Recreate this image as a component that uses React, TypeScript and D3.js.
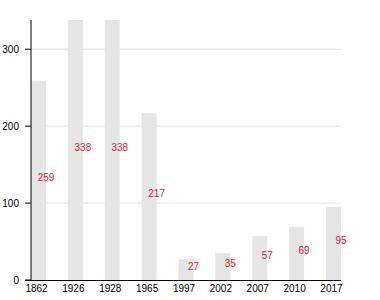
import React from "react";
import * as d3 from "d3";

const years = ["1862", "1926", "1928", "1965", "1997", "2002", "2007", "2010", "2017"];
const values = [259, 338, 338, 217, 27, 35, 57, 69, 95];
const yTicks = [0, 100, 200, 300];

export default function App() {
  const W = 380, H = 300;
  const left = 31, right = 341, top = 20, bottom = 280;
  const x = d3.scaleBand<string>().domain(years).range([left, right]).paddingInner(0.593).paddingOuter(0);
  const y = d3.scaleLinear().domain([0, d3.max(values) as number]).range([bottom, top]);
  const font = "Liberation Sans, Arial, sans-serif";
  return (
    <svg width={W} height={H} style={{ position: "absolute", left: 0, top: 0 }} fontFamily={font}>
      <rect width={W} height={H} fill="#fff" />
      {yTicks.filter((t) => t > 0).map((t) => (
        <line key={t} x1={left} x2={right} y1={y(t)} y2={y(t)} stroke="#e3e3e3" strokeWidth={1} />
      ))}
      {years.map((yr, i) => (
        <rect key={yr} x={x(yr)} y={y(values[i])} width={x.bandwidth()} height={y(0) - y(values[i])} fill="#e5e5e5" />
      ))}
      {years.map((yr, i) => (
        <text key={yr} x={(x(yr) as number) + x.bandwidth()} y={(y(values[i]) + y(0)) / 2 + 0.5}
          textAnchor="middle" fontSize={10} fill="#e8192c">{values[i]}</text>
      ))}
      <line x1={left} x2={left} y1={top} y2={bottom} stroke="#000" strokeWidth={1} />
      <line x1={left - 6} x2={right} y1={bottom + 0.5} y2={bottom + 0.5} stroke="#000" strokeWidth={1} />
      {yTicks.map((t) => (
        <g key={t}>
          <line x1={left - 6} x2={left} y1={y(t)} y2={y(t)} stroke="#000" />
          <text x={left - 12} y={y(t)} dy="0.35em" textAnchor="end" fontSize={10} fill="#000">{t}</text>
        </g>
      ))}
      {years.map((yr) => (
        <text key={yr} x={(x(yr) as number) + x.bandwidth() / 2 - 2} y={bottom + 12} textAnchor="middle" fontSize={10} fill="#000">{yr}</text>
      ))}
    </svg>
  );
}
